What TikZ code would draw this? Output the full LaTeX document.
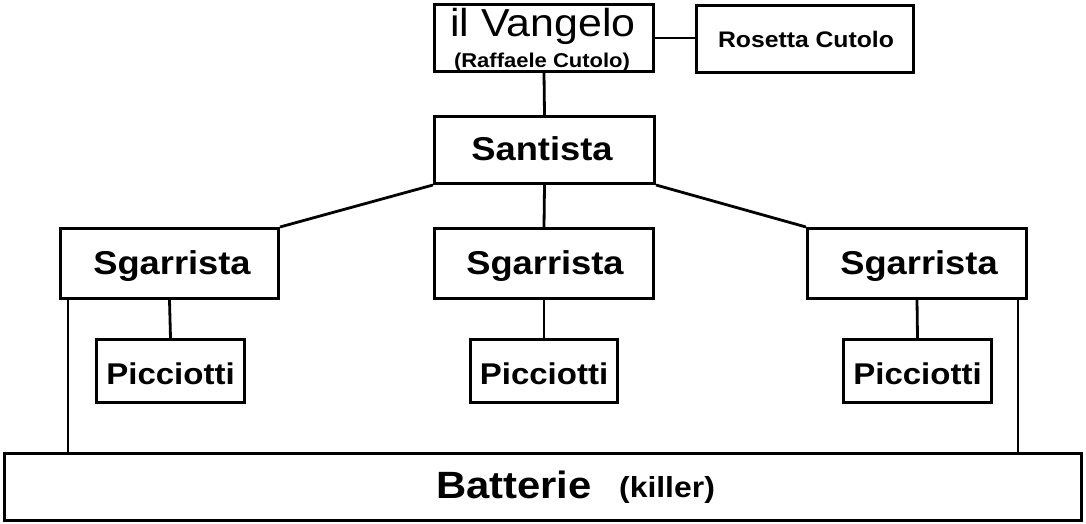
\documentclass[tikz,border=0pt]{standalone}
\usepackage{fontspec}
\setmainfont{Liberation Sans}[FakeStretch=1.1]
\usetikzlibrary{calc}
\begin{document}
\begin{tikzpicture}[x=1pt,y=-1pt,
  box/.style={draw=black,line width=3pt,fill=white,inner sep=0pt},
  lbl/.style={anchor=base,inner sep=0pt,text=black},
  conn/.style={draw=black,line width=2.8pt}]
\useasboundingbox (0,0) rectangle (1086,524);
\node[box,minimum width=219pt,minimum height=67pt] (V) at (544,38) {};
\node[box,minimum width=217pt,minimum height=67pt] (R) at (805,39) {};
\node[box,minimum width=220pt,minimum height=67pt] (S) at (544.5,150) {};
\node[box,minimum width=218pt,minimum height=70pt] (G1) at (169.5,263.5) {};
\node[box,minimum width=219pt,minimum height=70pt] (G2) at (544,263.5) {};
\node[box,minimum width=219pt,minimum height=70pt] (G3) at (917,263.5) {};
\node[box,minimum width=148pt,minimum height=63pt] (P1) at (170.5,371) {};
\node[box,minimum width=147pt,minimum height=63pt] (P2) at (544,371) {};
\node[box,minimum width=148pt,minimum height=63pt] (P3) at (917.5,371) {};
\node[box,minimum width=1077pt,minimum height=67pt] (B) at (543,487) {};
% texts
\node[lbl,font=\fontsize{39}{39}\selectfont] (tV) at (543,37) {il Vangelo};
\node[lbl,font=\fontsize{20}{20}\selectfont\bfseries] (tV2) at (542,68) {(Raffaele Cutolo)};
\node[lbl,font=\fontsize{22.5}{22.5}\selectfont\bfseries] (tR) at (806,48) {Rosetta Cutolo};
\node[lbl,font=\fontsize{33}{33}\selectfont\bfseries] (tS) at (542,160) {Santista};
\node[lbl,font=\fontsize{33}{33}\selectfont\bfseries] (tG1) at (172,274) {Sgarrista};
\node[lbl,font=\fontsize{33}{33}\selectfont\bfseries] (tG2) at (545,274) {Sgarrista};
\node[lbl,font=\fontsize{33}{33}\selectfont\bfseries] (tG3) at (919,274) {Sgarrista};
\node[lbl,font=\fontsize{30}{30}\selectfont\bfseries] (tP1) at (170.5,384) {Picciotti};
\node[lbl,font=\fontsize{30}{30}\selectfont\bfseries] (tP2) at (544,384) {Picciotti};
\node[lbl,font=\fontsize{30}{30}\selectfont\bfseries] (tP3) at (917.5,384) {Picciotti};
\node[lbl,font=\fontsize{38}{38}\selectfont\bfseries] (tB) at (514,498) {Batterie};
\node[lbl,font=\fontsize{29}{29}\selectfont\bfseries] (tK) at (667,497) {(killer)};
% connectors
\draw[conn] (V.east) -- (V.east -| R.west);
\draw[conn] (V.south) -- (S.north);
\draw[conn] (S.south) -- (G2.north);
\draw[conn] (S.south west) -- (G1.north east);
\draw[conn] (S.south east) -- (G3.north west);
\draw[conn] (G1.south) -- (P1.north);
\draw[conn] (G2.south) -- (P2.north);
\draw[conn] (G3.south) -- (P3.north);
\coordinate (g1b) at ([xshift=9pt]G1.south west);
\coordinate (g3b) at ([xshift=-10pt]G3.south east);
\draw[conn] (g1b) -- (g1b |- B.north);
\draw[conn] (g3b) -- (g3b |- B.north);
\end{tikzpicture}
\end{document}
